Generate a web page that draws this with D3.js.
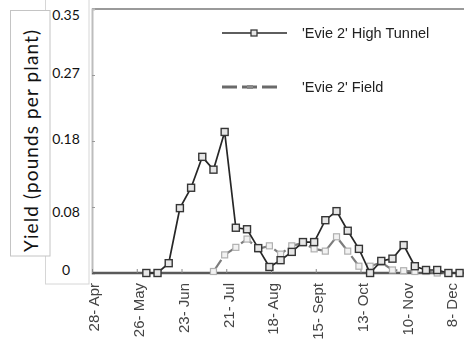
<!DOCTYPE html>
<html>
<head>
<meta charset="utf-8">
<script src="https://cdn.jsdelivr.net/npm/d3@7/dist/d3.min.js"></script>
<style>
  html, body { margin: 0; padding: 0; background: #fff; }
  svg { display: block; }
</style>
</head>
<body>
<svg id="chart" width="464" height="347"></svg>
<script>
// Weekly harvest dates (2009 season)
const harvestDates = [
  "2009-06-01", "2009-06-08", "2009-06-15", "2009-06-22", "2009-06-29",
  "2009-07-06", "2009-07-13", "2009-07-20", "2009-07-27", "2009-08-03",
  "2009-08-10", "2009-08-17", "2009-08-24", "2009-08-31", "2009-09-07",
  "2009-09-14", "2009-09-21", "2009-09-28", "2009-10-05", "2009-10-12",
  "2009-10-19", "2009-10-26", "2009-11-02", "2009-11-09", "2009-11-16",
  "2009-11-23", "2009-11-30", "2009-12-07", "2009-12-14"
];

// Yield, pounds per plant
const highTunnel = [
  0, 0, 0.013, 0.086, 0.113, 0.154, 0.137, 0.187, 0.060, 0.058,
  0.033, 0.008, 0.017, 0.028, 0.041, 0.041, 0.070, 0.082, 0.056, 0.032,
  0, 0.016, 0.019, 0.037, 0.009, 0.004, 0.004, 0, 0
];
const field = [
  null, null, null, null, null, null, 0.002, 0.024, 0.034, 0.045,
  0.032, 0.036, 0.025, 0.036, 0.040, 0.032, 0.029, 0.048, 0.029, 0.009,
  0.009, 0.014, 0.004, 0.003, 0.002, 0.002, 0, 0, 0
];

// Axis labels
const xTickDates = ["2009-04-28", "2009-05-26", "2009-06-23", "2009-07-21", "2009-08-18",
                    "2009-09-15", "2009-10-13", "2009-11-10", "2009-12-08"];
const xTickLabels = ["28- Apr", "26- May", "23- Jun", "21- Jul", "18- Aug",
                     "15- Sept", "13- Oct", "10- Nov", "8- Dec"];
const yAxisTicks = [0.0875, 0.175, 0.2625];
const yTickLabels = ["0", "0.08", "0.18", "0.27", "0.35"];
const yTickValues = [0, 0.08, 0.18, 0.27, 0.35];

const seriesNames = ["'Evie 2' High Tunnel", "'Evie 2' Field"];
const yTitle = "Yield (pounds per plant)";

const parse = d3.timeParse("%Y-%m-%d");
const svg = d3.select("#chart");

// soft rendering for the chart body
svg.append("defs").append("filter").attr("id", "soft")
  .attr("x", "-5%").attr("y", "-5%").attr("width", "110%").attr("height", "110%")
  .append("feGaussianBlur").attr("stdDeviation", 0.45);

const x = d3.scaleTime()
  .domain([parse(xTickDates[0]), parse(xTickDates[xTickDates.length - 1])])
  .range([92, 450]);
const y = d3.scaleLinear().domain([0, 0.35]).range([273, 9]);

const ht = harvestDates.map((d, i) => ({ date: parse(d), v: highTunnel[i] }));
const fd = harvestDates.map((d, i) => ({ date: parse(d), v: field[i] }))
  .filter(d => d.v !== null);

const plot = svg.append("g").attr("filter", "url(#soft)");

// frame: top border and left axis
plot.append("line").attr("x1", 92).attr("x2", 464).attr("y1", 9).attr("y2", 9)
  .attr("stroke", "#9a9a9a").attr("stroke-width", 2);
plot.append("g").attr("transform", "translate(92,0)")
  .call(d3.axisRight(y).tickValues(yAxisTicks).tickSize(3).tickFormat(""))
  .call(g => g.select(".domain").attr("stroke", "#bdbdbd").attr("stroke-width", 2))
  .call(g => g.selectAll(".tick line").attr("stroke", "#999"));

// bottom axis with upward ticks
plot.append("g").attr("transform", "translate(0,273)")
  .call(d3.axisTop(x).tickValues(xTickDates.map(parse)).tickSize(4).tickSizeOuter(0).tickFormat(""))
  .call(g => g.select(".domain").attr("stroke", "#5a5a5a").attr("stroke-width", 2.5)
    .attr("d", "M92,0H464"))
  .call(g => g.selectAll(".tick line").attr("stroke", "#888"));

// field series (dashed)
const line = d3.line().x(d => x(d.date)).y(d => y(d.v));
plot.append("path").datum(fd).attr("d", line)
  .attr("fill", "none").attr("stroke", "#7c7c7c").attr("stroke-width", 2.2)
  .attr("stroke-dasharray", "14,6");
plot.selectAll(".fmark").data(fd).enter().append("rect")
  .attr("x", d => x(d.date) - 3).attr("y", d => y(d.v) - 3)
  .attr("width", 6).attr("height", 6)
  .attr("fill", "#f2f2f2").attr("stroke", "#b0b0b0").attr("stroke-width", 1.2);

// high tunnel series (solid with square markers)
plot.append("path").datum(ht).attr("d", line)
  .attr("fill", "none").attr("stroke", "#262626").attr("stroke-width", 1.7);
plot.selectAll(".hmark").data(ht).enter().append("rect")
  .attr("x", d => x(d.date) - 3.5).attr("y", d => y(d.v) - 3.5)
  .attr("width", 7).attr("height", 7)
  .attr("fill", "#e6e6e6").attr("stroke", "#363636").attr("stroke-width", 1.4);

// x tick labels
plot.selectAll(".xl").data(xTickDates).enter().append("text")
  .attr("transform", d => `translate(${x(parse(d)) + 2},283) rotate(-90)`)
  .attr("text-anchor", "end").attr("dy", "0.35em")
  .attr("font-family", "'Liberation Sans', Arial, sans-serif")
  .attr("font-size", 15).attr("fill", "#444")
  .text((d, i) => xTickLabels[i]);

// legend
const lg = plot.append("g");
lg.append("line").attr("x1", 222).attr("x2", 287).attr("y1", 33).attr("y2", 33)
  .attr("stroke", "#2a2a2a").attr("stroke-width", 1.4);
lg.append("rect").attr("x", 251).attr("y", 30).attr("width", 6).attr("height", 6)
  .attr("fill", "#e6e6e6").attr("stroke", "#3a3a3a").attr("stroke-width", 1.3);
lg.append("line").attr("x1", 222).attr("x2", 279).attr("y1", 87).attr("y2", 87)
  .attr("stroke", "#6a6a6a").attr("stroke-width", 3).attr("stroke-dasharray", "15,5");
lg.append("rect").attr("x", 247).attr("y", 85).attr("width", 6).attr("height", 4)
  .attr("fill", "#8a8a8a");
lg.selectAll("text").data(seriesNames).enter().append("text")
  .attr("x", 302).attr("y", (d, i) => i === 0 ? 33 : 87).attr("dy", "0.35em")
  .attr("font-family", "'Liberation Sans', Arial, sans-serif")
  .attr("font-size", 14.5).attr("fill", "#222")
  .text(d => d);

// y label overlay boxes
const yl = d3.scaleLinear().domain([0, 0.35]).range([270, 15]);
svg.append("rect").attr("x", 45.5).attr("y", -1).attr("width", 43.5).attr("height", 285)
  .attr("fill", "#fff").attr("stroke", "#d6d6d6");
svg.selectAll(".yl").data(yTickValues).enter().append("text")
  .attr("x", 66).attr("y", d => yl(d)).attr("dy", "0.35em")
  .attr("text-anchor", "middle")
  .attr("font-family", "Lato, 'Open Sans', sans-serif")
  .attr("font-size", 14).attr("fill", "#111")
  .text((d, i) => yTickLabels[i]);

svg.append("rect").attr("x", 10.5).attr("y", 10.5).attr("width", 39.5).attr("height", 245.5)
  .attr("fill", "#fff").attr("stroke", "#c4c4c4");
svg.append("text")
  .attr("transform", "translate(31,141) rotate(-90)")
  .attr("text-anchor", "middle").attr("dy", "0.35em")
  .attr("font-family", "Lato, 'Open Sans', sans-serif")
  .attr("font-size", 19).attr("fill", "#111")
  .attr("textLength", 222).attr("lengthAdjust", "spacing")
  .text(yTitle);
</script>
</body>
</html>
